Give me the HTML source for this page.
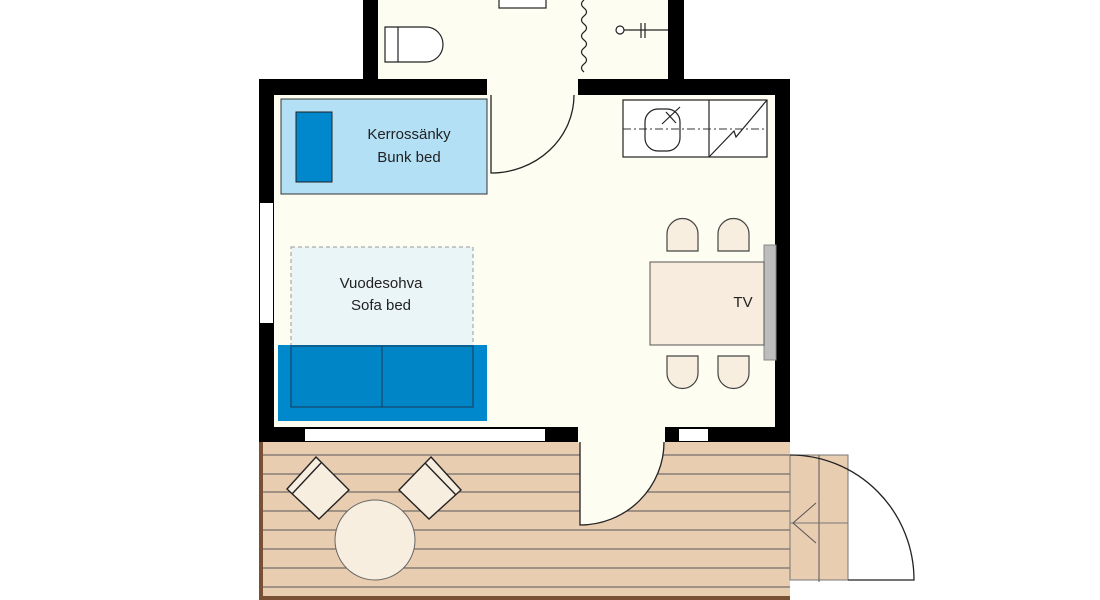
<!DOCTYPE html>
<html><head><meta charset="utf-8"><style>
html,body{margin:0;padding:0;background:#fff;width:1100px;height:600px;overflow:hidden}
svg{display:block}
text{font-family:"Liberation Sans",sans-serif;font-size:15px;fill:#222}
</style></head><body>
<svg width="1100" height="600" viewBox="0 0 1100 600" xmlns="http://www.w3.org/2000/svg">
<!-- bathroom -->
<rect x="363" y="0" width="321" height="95" fill="#000"/>
<rect x="378" y="0" width="290" height="95" fill="#fefdf2"/>
<!-- main room -->
<rect x="259" y="79" width="531" height="363" fill="#000"/>
<rect x="274" y="95" width="501" height="332" fill="#fefdf2"/>
<rect x="487" y="79" width="91" height="16" fill="#fefdf2"/>
<!-- bathroom fixtures -->
<rect x="499" y="-2" width="47" height="10" fill="#fff" stroke="#222" stroke-width="1.2"/>
<path d="M385 27 H426 A17 17.5 0 0 1 426 62 H385 Z" fill="#fff" stroke="#222" stroke-width="1.2"/>
<line x1="398" y1="27" x2="398" y2="62" stroke="#222" stroke-width="1.2"/>
<path d="M584 0 q-5 4 0 8 q5 4 0 8 q-5 4 0 8 q5 4 0 8 q-5 4 0 8 q5 4 0 8 q-5 4 0 8 q5 4 0 8 q-5 4 0 8" fill="none" stroke="#222" stroke-width="1.2"/>
<circle cx="620" cy="30" r="4" fill="#fff" stroke="#222" stroke-width="1.2"/>
<line x1="624" y1="30" x2="668" y2="30" stroke="#222" stroke-width="1.2"/>
<line x1="641" y1="23" x2="641" y2="38" stroke="#222" stroke-width="1.2"/>
<line x1="645" y1="23" x2="645" y2="38" stroke="#222" stroke-width="1.2"/>
<!-- top door -->
<path d="M491 95 V173 A83 78 0 0 0 574 95" fill="none" stroke="#222" stroke-width="1.3"/>
<!-- left window -->
<rect x="260" y="203" width="13" height="120" fill="#fff"/>
<!-- bottom wall windows/door -->
<rect x="305" y="429" width="240" height="12" fill="#fff"/>
<rect x="679" y="429" width="29" height="12" fill="#fff"/>
<!-- deck -->
<rect x="259" y="442" width="531" height="158" fill="#e9cdb1"/>
<rect x="259" y="442" width="4" height="158" fill="#7a5034"/>
<rect x="259" y="596" width="531" height="4" fill="#7a5034"/>
<g stroke="#555" stroke-width="1">
<line x1="263" y1="455" x2="790" y2="455"/><line x1="263" y1="474" x2="790" y2="474"/>
<line x1="263" y1="492" x2="790" y2="492"/><line x1="263" y1="511" x2="790" y2="511"/>
<line x1="263" y1="530" x2="790" y2="530"/><line x1="263" y1="549" x2="790" y2="549"/>
<line x1="263" y1="568" x2="790" y2="568"/><line x1="263" y1="587" x2="790" y2="587"/>
</g>
<!-- door gap + bottom door -->
<rect x="578" y="427" width="87" height="16" fill="#fefdf2"/>
<path d="M580 442 V525 A84 83 0 0 0 664 442 Z" fill="#fefdf2"/>
<path d="M580 442 V525 A84 83 0 0 0 664 442" fill="none" stroke="#222" stroke-width="1.3"/>
<!-- step and outer door -->
<rect x="790" y="455" width="58" height="125" fill="#e9cdb1" stroke="#777" stroke-width="1"/>
<line x1="819" y1="455" x2="819" y2="582" stroke="#555"/>
<line x1="790" y1="523" x2="848" y2="523" stroke="#777"/>
<path d="M816 503 L793 523 L816 543" fill="none" stroke="#555" stroke-width="1"/>
<path d="M790 455 A124 125 0 0 1 914 580 H848" fill="none" stroke="#222" stroke-width="1.3"/>
<!-- deck furniture -->
<g stroke="#222" stroke-width="1.4" fill="#f8eee0">
<path d="M316 457 L349 490 L319 519 L287 489 Z"/>
<line x1="292" y1="494" x2="321" y2="463"/>
<path d="M431 457 L461 490 L429 519 L399 490 Z"/>
<line x1="425" y1="463" x2="456" y2="495"/>
</g>
<circle cx="375" cy="540" r="40" fill="#f8eee0" stroke="#666" stroke-width="1"/>
<!-- bunk bed -->
<rect x="281" y="99" width="206" height="95" fill="#b3e0f5" stroke="#333" stroke-width="1"/>
<rect x="296" y="112" width="36" height="70" fill="#0087cc" stroke="#222" stroke-width="1"/>
<text x="409" y="139" text-anchor="middle">Kerrossänky</text>
<text x="409" y="162" text-anchor="middle">Bunk bed</text>
<!-- sofa bed -->
<rect x="291" y="247" width="182" height="99" fill="#eaf5f8" stroke="#999" stroke-width="1" stroke-dasharray="4 3"/>
<text x="381" y="288" text-anchor="middle">Vuodesohva</text>
<text x="381" y="310" text-anchor="middle">Sofa bed</text>
<rect x="278" y="345" width="209" height="76" fill="#0088cc"/>
<rect x="291" y="346" width="182" height="61" fill="#0086c6" stroke="#1a3a55" stroke-width="1"/>
<line x1="382" y1="346" x2="382" y2="407" stroke="#1a3a55" stroke-width="1"/>
<!-- kitchen -->
<rect x="623" y="100" width="144" height="57" fill="#fff" stroke="#222" stroke-width="1.2"/>
<line x1="709" y1="100" x2="709" y2="157" stroke="#222" stroke-width="1.2"/>
<line x1="623" y1="129" x2="767" y2="129" stroke="#333" stroke-width="1" stroke-dasharray="8 3 2 3"/>
<rect x="645" y="109" width="35" height="42" rx="13" fill="none" stroke="#222" stroke-width="1.2"/>
<line x1="662" y1="124" x2="680" y2="107" stroke="#222" stroke-width="1.2"/>
<line x1="666" y1="112" x2="676" y2="123" stroke="#222" stroke-width="1.2"/>
<path d="M709 157 L734 131 L736 137 L767 100" fill="none" stroke="#222" stroke-width="1.2"/>
<!-- table, TV, chairs -->
<rect x="764" y="245" width="12" height="115" fill="#bdbdbd" stroke="#888" stroke-width="1"/>
<rect x="650" y="262" width="114" height="83" fill="#f7ecdd" stroke="#555" stroke-width="1"/>
<text x="743" y="307" text-anchor="middle">TV</text>
<g fill="#f8eee0" stroke="#444" stroke-width="1.2">
<path d="M667 251 V234 A15.5 15.5 0 0 1 698 234 V251 Z"/>
<path d="M718 251 V234 A15.5 15.5 0 0 1 749 234 V251 Z"/>
<path d="M667 356 V373 A15.5 15.5 0 0 0 698 373 V356 Z"/>
<path d="M718 356 V373 A15.5 15.5 0 0 0 749 373 V356 Z"/>
</g>
</svg>
</body></html>
